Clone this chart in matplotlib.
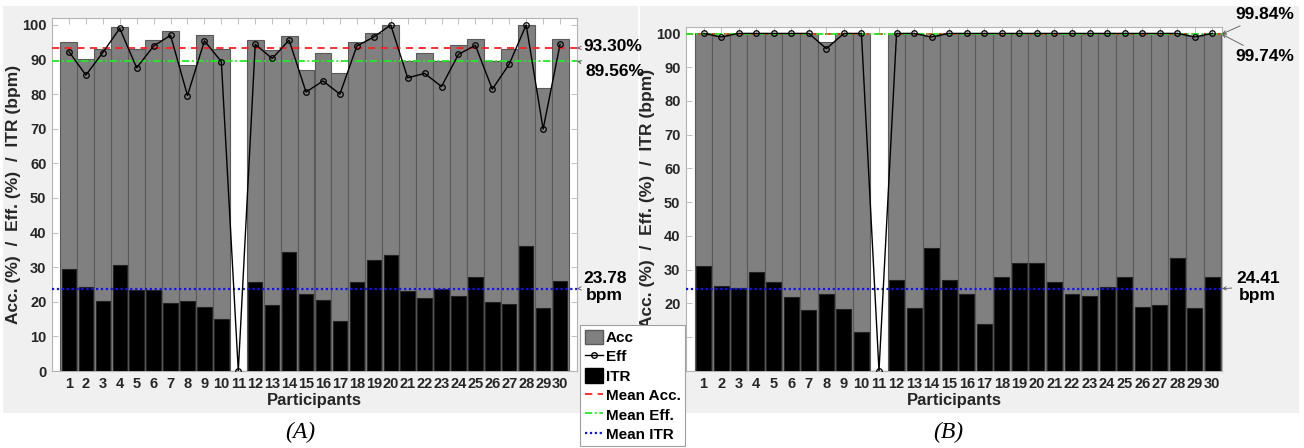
import matplotlib.pyplot as plt
import matplotlib.patches as patches
from matplotlib.lines import Line2D

plt.rcParams['font.family'] = ['Liberation Sans', 'DejaVu Sans']
plt.rcParams['font.weight'] = 'bold'

participants = list(range(1, 31))

# panel A
acc_a = [95.0, 90.1, 93.1, 99.5, 93.0, 95.6, 98.2, 88.3, 97.2, 93.0,
         0.0, 95.6, 92.7, 96.7, 87.0, 91.8, 86.0, 95.1, 97.6, 100.0,
         89.6, 92.0, 89.6, 94.1, 95.8, 89.6, 93.1, 100.0, 81.8, 95.8]
eff_a = [92.3, 85.5, 92.0, 99.0, 87.6, 93.9, 97.0, 79.6, 95.4, 89.4,
         0.0, 94.4, 90.3, 95.6, 80.6, 83.8, 80.0, 93.9, 96.5, 100.0,
         84.7, 86.0, 82.2, 91.5, 94.1, 81.4, 88.7, 100.0, 69.9, 94.4]
itr_a = [29.4, 24.4, 20.3, 30.7, 23.5, 23.3, 19.6, 20.3, 18.6, 15.1,
         0.0, 25.7, 19.1, 34.3, 22.3, 20.4, 14.5, 25.6, 32.0, 33.6,
         23.1, 21.0, 23.6, 21.7, 27.3, 19.8, 19.4, 36.2, 18.2, 26.0]
means_a = [93.30, 89.56, 23.78]

# panel B
acc_b = [100.0, 99.3, 100.0, 100.0, 100.0, 100.0, 100.0, 97.5, 100.0, 100.0,
         0.0, 100.0, 100.0, 99.3, 100.0, 100.0, 100.0, 100.0, 100.0, 100.0,
         100.0, 100.0, 100.0, 100.0, 100.0, 100.0, 100.0, 100.0, 99.3, 100.0]
eff_b = [100.0, 99.0, 100.0, 100.0, 100.0, 100.0, 100.0, 95.5, 100.0, 100.0,
         0.0, 100.0, 100.0, 99.0, 100.0, 100.0, 100.0, 100.0, 100.0, 100.0,
         100.0, 100.0, 100.0, 100.0, 100.0, 100.0, 100.0, 100.0, 99.0, 100.0]
itr_b = [31.1, 25.2, 24.5, 29.4, 26.5, 21.8, 18.1, 22.7, 18.3, 11.6,
         0.0, 27.0, 18.6, 36.4, 27.0, 22.7, 13.9, 27.7, 31.9, 31.9,
         26.3, 22.8, 22.3, 24.8, 27.9, 19.1, 19.7, 33.6, 18.8, 27.9]
means_b = [99.84, 99.74, 24.41]

W, H = 1304, 448
fig = plt.figure(figsize=(W / 100, H / 100), dpi=100)
fig.patch.set_facecolor('white')

# grey panel backgrounds
for x0, x1 in [(3, 638), (640, 1299)]:
    fig.add_artist(patches.Rectangle((x0 / W, 1 - 413 / H), (x1 - x0) / W, 407 / H,
                                     transform=fig.transFigure, facecolor='#f0f0f0',
                                     edgecolor='none', zorder=-5))

ax_a = fig.add_axes([52 / W, 1 - 371 / H, 525 / W, 353 / H])
ax_b = fig.add_axes([686 / W, 1 - 371 / H, 536 / W, 344.3 / H])

box_col = '#b4b4b4'
txt_col = '#262626'


def draw_panel(ax, acc, eff, itr, means, xmax, notes):
    ax.bar(participants, acc, width=1.0, color='#808080', edgecolor='#5a5a5a', linewidth=0.8, zorder=2)
    ax.bar(participants, itr, width=0.85, color='black', edgecolor='#222222', linewidth=0.8, zorder=3)
    ax.plot(participants, eff, color='black', lw=1.0, marker='o', ms=4, mfc='none', mec='black', mew=0.9, zorder=5)
    ax.axhline(means[0], color='#ff2020', ls=(0, (4, 3)), lw=1.3, zorder=4)
    ax.axhline(means[1], color='#20ee20', ls=(0, (4, 1.5, 1, 1.5)), lw=1.3, zorder=4)
    ax.axhline(means[2], color='#1010ff', ls=(0, (1, 1.2)), lw=1.6, zorder=4)
    ax.set_xlim(0, xmax)
    ax.set_ylim(0, 102)
    ax.set_xticks(participants)
    ax.set_yticks(range(0, 101, 10))
    ax.tick_params(direction='in', top=True, right=True, length=4, width=0.6,
                   color=box_col, labelcolor=txt_col, labelsize=10.5, pad=4)
    for lab in ax.get_xticklabels() + ax.get_yticklabels():
        lab.set_fontweight('bold')
    for sp in ax.spines.values():
        sp.set_color(box_col)
        sp.set_linewidth(0.8)
    ax.set_xlabel('Participants', fontsize=12, fontweight='bold', color=txt_col, labelpad=2)
    ax.set_ylabel('Acc. (%)  /  Eff. (%)  /  ITR (bpm)', fontsize=12.5, fontweight='bold',
                  color=txt_col, labelpad=1)
    for txt, yv, dx, dy in notes:
        ax.annotate(txt, xy=(1, yv), xycoords=('axes fraction', 'data'),
                    xytext=(dx, dy), textcoords='offset pixels', ha='left', va='center',
                    multialignment='center', linespacing=1.15,
                    fontsize=12.5, fontweight='bold', color='black', annotation_clip=False,
                    arrowprops=dict(arrowstyle='->', color='#555555', lw=0.6,
                                    shrinkA=1, shrinkB=0, mutation_scale=6))


draw_panel(ax_a, acc_a, eff_a, itr_a, means_a, 31,
           [('%.2f%%' % means_a[0], means_a[0], 6, 2),
            ('%.2f%%' % means_a[1], means_a[1], 8, -10),
            ('%.2f\nbpm' % means_a[2], means_a[2], 6, 2)])
draw_panel(ax_b, acc_b, eff_b, itr_b, means_b, 30.55,
           [('%.2f%%' % means_b[0], means_b[0], 13, 19),
            ('%.2f%%' % means_b[1], means_b[1], 13, -22),
            ('%.2f\nbpm' % means_b[2], means_b[2], 14, 2)])

handles = [
    patches.Patch(facecolor='#808080', edgecolor='#5a5a5a', label='Acc'),
    Line2D([], [], color='black', lw=1.0, marker='o', ms=4, mfc='none', label='Eff'),
    patches.Patch(facecolor='black', edgecolor='black', label='ITR'),
    Line2D([], [], color='#ff2020', ls=(0, (4, 3)), lw=1.3, label='Mean Acc.'),
    Line2D([], [], color='#20ee20', ls=(0, (4, 1.5, 1, 1.5)), lw=1.3, label='Mean Eff.'),
    Line2D([], [], color='#1010ff', ls=(0, (1, 1.2)), lw=1.6, label='Mean ITR'),
]
leg = fig.legend(handles=handles, loc='upper left', bbox_to_anchor=(580 / W, 1 - 325 / H),
                 borderaxespad=0, frameon=True, fancybox=False, framealpha=1,
                 edgecolor='#a0a0a0', prop={'size': 11, 'weight': 'bold'},
                 handlelength=1.2, handleheight=1.1, handletextpad=0.2,
                 labelspacing=0.25, borderpad=0.3)
leg.get_frame().set_linewidth(0.8)

fig.text(300 / W, 1 - 432 / H, '(A)', family='Liberation Serif', style='italic',
         fontweight='normal', fontsize=17, ha='center', va='center')
fig.text(948 / W, 1 - 432 / H, '(B)', family='Liberation Serif', style='italic',
         fontweight='normal', fontsize=17, ha='center', va='center')

fig.savefig('out.png', dpi=100)
